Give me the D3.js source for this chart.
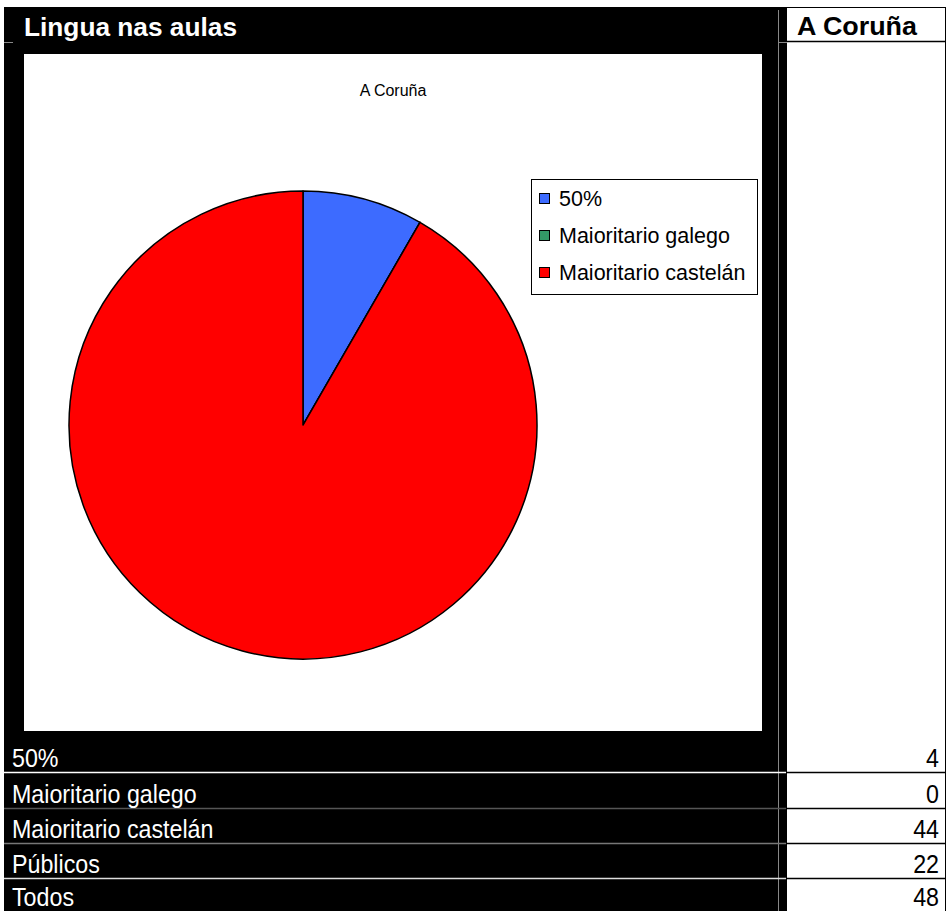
<!DOCTYPE html>
<html><head><meta charset="utf-8">
<script src="https://cdn.jsdelivr.net/npm/d3@7/dist/d3.min.js"></script>
<style>body{margin:0;background:#fff}svg{display:block}text{font-family:"Liberation Sans",Arial,sans-serif}</style>
</head><body>
<svg id="c" width="949" height="911"></svg>
<script>
const categories = ["50%", "Maioritario galego", "Maioritario castelán"];
const values = [4, 0, 44];
const colors = ["#3d6bff", "#339966", "#ff0000"];
const summaryLabels = ["Públicos", "Todos"];
const summaryValues = [22, 48];
const tableTitle = "Lingua nas aulas";
const regionName = "A Coruña";

const svg = d3.select("#c");
svg.append("rect").attr("width", 949).attr("height", 911).attr("fill", "#fff");

// left black block
svg.append("rect").attr("x", 4).attr("y", 7).attr("width", 783).attr("height", 904).attr("fill", "#000");
svg.append("line").attr("x1", 778.5).attr("x2", 778.5).attr("y1", 10).attr("y2", 911).attr("stroke", "#888");
svg.append("line").attr("x1", 4).attr("x2", 13).attr("y1", 42.5).attr("y2", 42.5).attr("stroke", "#888");
svg.append("line").attr("x1", 778).attr("x2", 787).attr("y1", 42.5).attr("y2", 42.5).attr("stroke", "#888");

// title
svg.append("text").attr("x", 24).attr("y", 36).attr("fill", "#fff")
  .attr("font-size", 26).attr("font-weight", "bold")
  .attr("textLength", 213).attr("lengthAdjust", "spacingAndGlyphs").text(tableTitle);

// chart area
svg.append("rect").attr("x", 24).attr("y", 54).attr("width", 738).attr("height", 677).attr("fill", "#fff");
svg.append("text").attr("x", 393).attr("y", 96).attr("text-anchor", "middle").attr("font-size", 16).text(regionName);

// pie
const cx = 303, cy = 425, r = 234;
const pie = d3.pie().sort(null).value(d => d)(values);
const arc = d3.arc().innerRadius(0).outerRadius(r);
const g = svg.append("g").attr("transform", `translate(${cx},${cy})`);
g.selectAll("path").data(pie).join("path")
  .attr("d", arc).attr("fill", (d, i) => colors[i])
  .attr("stroke", "#000").attr("stroke-width", 1.5).attr("stroke-linejoin", "round");

// legend
const lg = svg.append("g");
lg.append("rect").attr("x", 531.5).attr("y", 179.5).attr("width", 226).attr("height", 115)
  .attr("fill", "#fff").attr("stroke", "#000");
const ly = d3.scalePoint().domain(categories).range([199, 273]);
categories.forEach((c, i) => {
  lg.append("rect").attr("x", 539.5).attr("y", ly(c) - 5.5).attr("width", 10).attr("height", 10)
    .attr("fill", colors[i]).attr("stroke", "#000");
  lg.append("text").attr("x", 559).attr("y", ly(c) + 7).attr("font-size", 21.5).text(c);
});

// rows
const rowLabels = categories.concat(summaryLabels);
const rowValues = values.concat(summaryValues);
const rowTops = [731, 773, 809, 844, 879];
const rowBottoms = [772, 808, 843, 878, 911];
const sepColors = ["#fff", "#555", "#777", "#ddd"];
rowTops.slice(1).forEach((y, i) => {
  svg.append("line").attr("x1", 4).attr("x2", 786).attr("y1", y - 0.5).attr("y2", y - 0.5)
    .attr("stroke", sepColors[i]).attr("stroke-width", 1.5);
});
rowLabels.forEach((l, i) => {
  svg.append("text").attr("transform", `translate(12,${rowBottoms[i] - 5}) scale(0.93,1)`)
    .attr("fill", "#fff").attr("font-size", 25).text(l);
});

// right column
svg.append("rect").attr("x", 787).attr("y", 7).attr("width", 158).attr("height", 904).attr("fill", "#fff");
svg.append("line").attr("x1", 787).attr("x2", 945.5).attr("y1", 7.5).attr("y2", 7.5).attr("stroke", "#000");
svg.append("line").attr("x1", 945.5).attr("x2", 945.5).attr("y1", 7).attr("y2", 911).attr("stroke", "#000");
[42, 773, 809, 844, 879].forEach(y => {
  svg.append("line").attr("x1", 787).attr("x2", 946).attr("y1", y - 0.5).attr("y2", y - 0.5).attr("stroke", "#000").attr("stroke-width", 1.5);
});
svg.append("text").attr("x", 797).attr("y", 35).attr("font-size", 25).attr("font-weight", "bold")
  .attr("textLength", 120).attr("lengthAdjust", "spacingAndGlyphs").text(regionName);
rowValues.forEach((v, i) => {
  svg.append("text").attr("transform", `translate(939,${rowBottoms[i] - 5}) scale(0.93,1)`)
    .attr("text-anchor", "end").attr("font-size", 25).text(v);
});
</script>
</body></html>
